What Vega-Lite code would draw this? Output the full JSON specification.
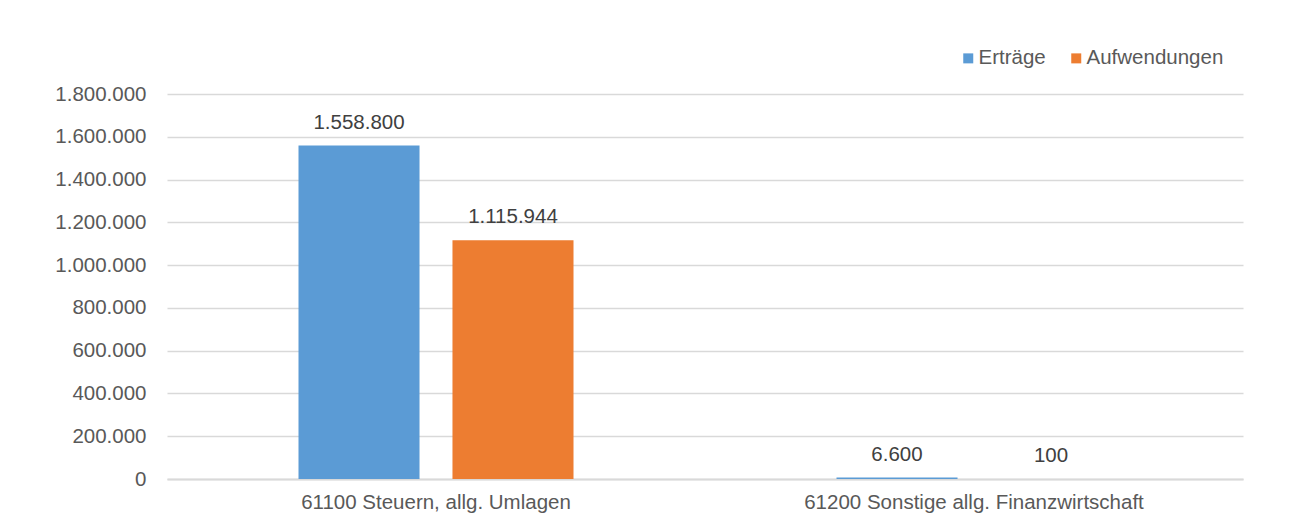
{
  "$schema": "https://vega.github.io/schema/vega-lite/v6.json",
  "width": 1076,
  "height": 385,
  "autosize": "none",
  "padding": {"left": 167, "top": 94, "right": 50, "bottom": 43},
  "background": "white",
  "config": {
    "locale": {"number": {"decimal": ",", "thousands": ".", "grouping": [3], "currency": ["", " €"]}},
    "font": "Liberation Sans",
    "view": {"stroke": null}
  },
  "data": {
    "values": [
      {"kategorie": "61100 Steuern, allg. Umlagen", "art": "Erträge", "wert": 1558800},
      {"kategorie": "61100 Steuern, allg. Umlagen", "art": "Aufwendungen", "wert": 1115944},
      {"kategorie": "61200 Sonstige allg. Finanzwirtschaft", "art": "Erträge", "wert": 6600},
      {"kategorie": "61200 Sonstige allg. Finanzwirtschaft", "art": "Aufwendungen", "wert": 100}
    ]
  },
  "encoding": {
    "x": {
      "field": "kategorie", "type": "nominal", "title": null,
      "scale": {"paddingInner": 0, "paddingOuter": 0},
      "axis": {"labelAngle": 0, "labelFontSize": 20.5, "labelColor": "#595959", "labelLimit": 0, "ticks": false, "labelPadding": 13, "domainColor": "#d9d9d9", "domainWidth": 2}
    },
    "xOffset": {"field": "art", "type": "nominal", "sort": ["Erträge", "Aufwendungen"], "scale": {"paddingInner": 0.214, "paddingOuter": 0.854}},
    "y": {
      "field": "wert", "type": "quantitative", "title": null,
      "scale": {"domain": [0, 1800000], "nice": false},
      "axis": {"values": [0, 200000, 400000, 600000, 800000, 1000000, 1200000, 1400000, 1600000, 1800000], "format": ",.0f", "labelFontSize": 20.5, "labelColor": "#595959", "ticks": false, "domain": false, "labelPadding": 21, "gridColor": "#d9d9d9", "gridWidth": 1.5}
    }
  },
  "layer": [
    {
      "mark": {"type": "bar"},
      "encoding": {
        "color": {
          "field": "art", "type": "nominal", "title": null,
          "scale": {"domain": ["Erträge", "Aufwendungen"], "range": ["#5B9BD5", "#ED7D31"]},
          "legend": {"orient": "none", "direction": "horizontal", "legendX": 791, "legendY": -46, "symbolType": "square", "symbolSize": 100, "symbolStrokeWidth": 0, "labelFontSize": 20.5, "labelColor": "#595959", "labelOffset": 0, "columnPadding": 20}
        }
      }
    },
    {
      "mark": {"type": "text", "baseline": "alphabetic", "dy": -17, "fontSize": 20.5, "color": "#404040"},
      "encoding": {
        "text": {"field": "wert", "type": "quantitative", "format": ",.0f"}
      }
    }
  ]
}
